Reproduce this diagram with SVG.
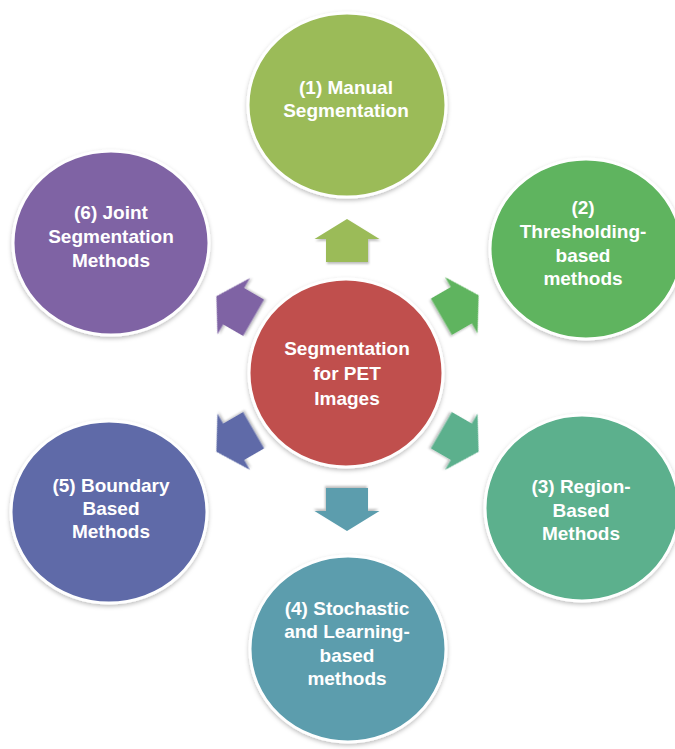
<svg xmlns="http://www.w3.org/2000/svg" width="675" height="749" viewBox="0 0 675 749">
  <defs>
    <filter id="sh" x="-20%" y="-20%" width="140%" height="140%">
      <feDropShadow dx="0" dy="2" stdDeviation="2" flood-color="#000" flood-opacity="0.25"/>
    </filter>
    <filter id="ash" x="-30%" y="-30%" width="160%" height="160%">
      <feDropShadow dx="1" dy="2" stdDeviation="1.2" flood-color="#000" flood-opacity="0.25"/>
    </filter>
    <path id="arrow" d="M0,-21.5 L32.5,-1.5 L21,-1.5 L21,21.5 L-21,21.5 L-21,-1.5 L-32.5,-1.5 Z"/>
  </defs>
  <style>
    .node ellipse { stroke: #ffffff; stroke-width: 3; filter: url(#sh); }
    .node text { font-family: "Liberation Sans", Arial, sans-serif; font-weight: bold; font-size: 19px; fill: #ffffff; text-anchor: middle; }
    .conn use { filter: url(#ash); }
  </style>
  <rect width="675" height="749" fill="#ffffff"/>

  <g id="connectors" class="conn">
    <use href="#arrow" fill="#9BBB59" transform="translate(347,240.5)"/>
    <use href="#arrow" fill="#5EB45E" transform="translate(460,306) rotate(60)"/>
    <use href="#arrow" fill="#5BB08D" transform="translate(460,441) rotate(120)"/>
    <use href="#arrow" fill="#5B9DAD" transform="translate(347,509.5) rotate(180)"/>
    <use href="#arrow" fill="#5E6BA8" transform="translate(235,441) rotate(-120)"/>
    <use href="#arrow" fill="#7F63A4" transform="translate(235,307) rotate(-60)"/>
  </g>

  <g id="center" class="node">
    <ellipse cx="346" cy="373" rx="97" ry="94" fill="#C0504D"/>
    <text x="347" y="355">Segmentation</text>
    <text x="347" y="380">for PET</text>
    <text x="347" y="405">Images</text>
  </g>

  <g id="n1" class="node">
    <ellipse cx="347" cy="105" rx="99" ry="92" fill="#9BBB59"/>
    <text x="346" y="94">(1) Manual</text>
    <text x="346" y="117">Segmentation</text>
  </g>

  <g id="n2" class="node">
    <ellipse cx="586" cy="249" rx="96" ry="90" fill="#5EB45E"/>
    <text x="583" y="214">(2)</text>
    <text x="583" y="238">Thresholding-</text>
    <text x="583" y="262">based</text>
    <text x="583" y="285">methods</text>
  </g>

  <g id="n3" class="node">
    <ellipse cx="582" cy="508" rx="97" ry="93" fill="#5BB08D"/>
    <text x="581" y="493">(3) Region-</text>
    <text x="581" y="517">Based</text>
    <text x="581" y="540">Methods</text>
  </g>

  <g id="n4" class="node">
    <ellipse cx="348" cy="649" rx="98" ry="93" fill="#5B9DAD"/>
    <text x="347" y="615">(4) Stochastic</text>
    <text x="347" y="638">and Learning-</text>
    <text x="347" y="662">based</text>
    <text x="347" y="685">methods</text>
  </g>

  <g id="n5" class="node">
    <ellipse cx="109" cy="512" rx="98" ry="91" fill="#5E6BA8"/>
    <text x="111" y="492">(5) Boundary</text>
    <text x="111" y="515">Based</text>
    <text x="111" y="538">Methods</text>
  </g>

  <g id="n6" class="node">
    <ellipse cx="111" cy="243" rx="98" ry="92" fill="#7F63A4"/>
    <text x="111" y="219">(6) Joint</text>
    <text x="111" y="243">Segmentation</text>
    <text x="111" y="267">Methods</text>
  </g>
</svg>
